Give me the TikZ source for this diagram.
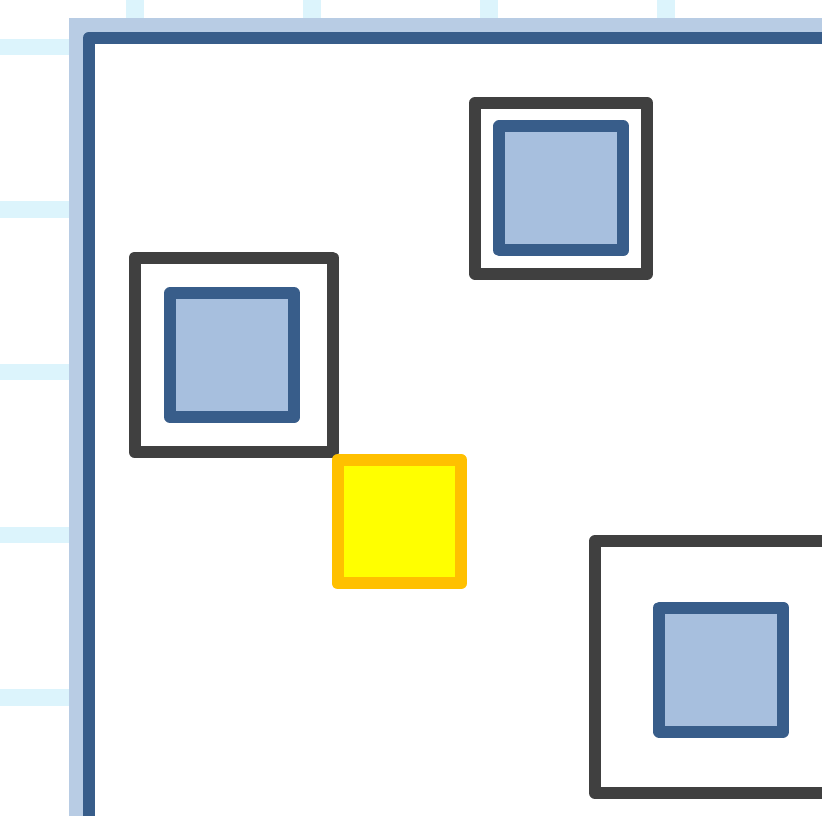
\documentclass[tikz,border=0pt]{standalone}
\definecolor{gridc}{HTML}{DCF4FC}
\definecolor{bandc}{HTML}{B8CCE4}
\definecolor{framec}{HTML}{385D8A}
\definecolor{fillc}{HTML}{A7BFDE}
\definecolor{grayc}{HTML}{404040}
\definecolor{yelc}{HTML}{FFFF00}
\definecolor{orac}{HTML}{FFC000}
\begin{document}
\begin{tikzpicture}[x=1pt,y=-1pt,
  gridline/.style={draw=gridc, line width=16.5pt},
  outerbox/.style={rectangle, draw=grayc, line width=12pt, line join=round, fill=white, inner sep=0pt, outer sep=0pt},
  innerbox/.style={rectangle, draw=framec, fill=fillc, line width=12pt, line join=round, inner sep=0pt, outer sep=0pt, minimum width=124pt, minimum height=124pt},
  markbox/.style={rectangle, draw=orac, fill=yelc, line width=12pt, line join=round, inner sep=0pt, outer sep=0pt, minimum width=123.5pt, minimum height=123.5pt}]
\useasboundingbox (0,0) rectangle (822,816);
\clip (0,0) rectangle (822,816);
% background grid
\foreach \yy in {47,209.5,372,535,697.5} \draw[gridline] (0,\yy) -- (822,\yy);
\foreach \xx in {135,312,489,666} \draw[gridline, line width=17.5pt] (\xx,0) -- (\xx,816);
% band and frame
\fill[bandc] (69,18) rectangle (840,840);
\draw[draw=framec, line width=12.5pt, line join=round, fill=white] (89.2,38) rectangle (860,860);
% boxes
\node[outerbox, minimum width=198pt, minimum height=194.5pt] (g1) at (233.5,354.75) {};
\node[innerbox] (b1) at (232.15,355.15) {};
\node[outerbox, minimum width=171.7pt, minimum height=171pt] (g2) at (561.15,188.3) {};
\node[innerbox] (b2) at (561.3,188.35) {};
\node[outerbox, minimum width=252.6pt, minimum height=251.6pt] (g3) at (721.3,667) {};
\node[innerbox] (b3) at (721.3,669.5) {};
\node[markbox] (y1) at (399.25,521.65) {};
\end{tikzpicture}
\end{document}
